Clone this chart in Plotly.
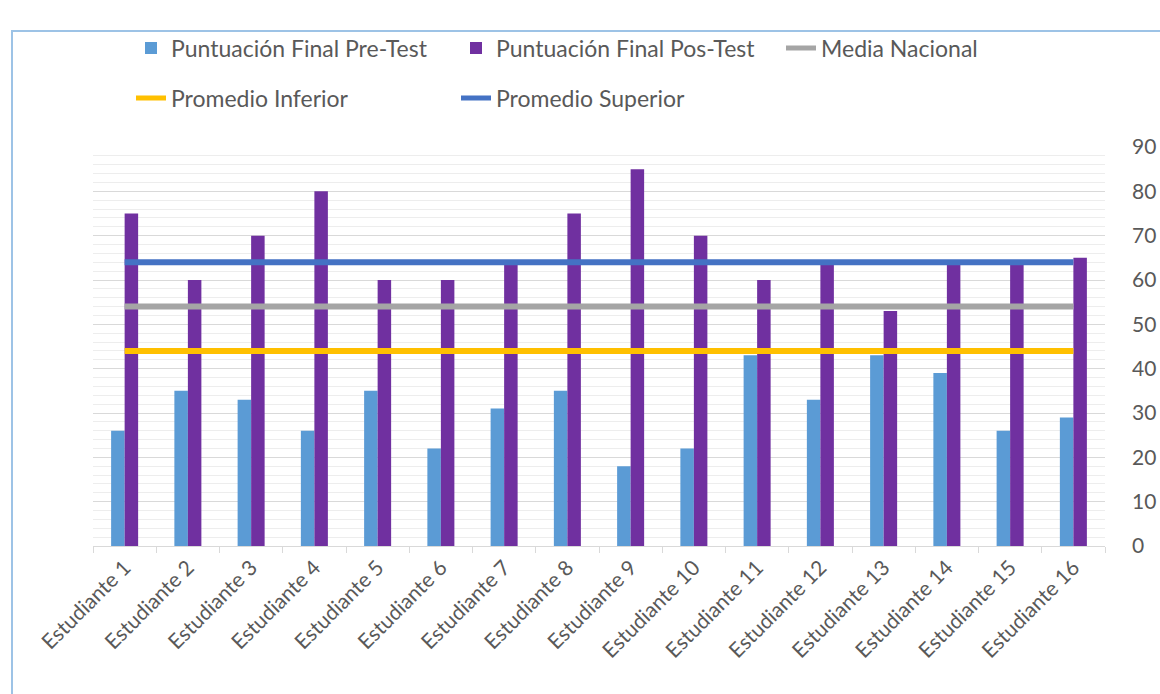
import plotly.graph_objects as go

categories = [f"Estudiante {i}" for i in range(1, 17)]
pre_test = [26, 35, 33, 26, 35, 22, 31, 35, 18, 22, 43, 33, 43, 39, 26, 29]
post_test = [75, 60, 70, 80, 60, 60, 64, 75, 85, 70, 60, 64, 53, 64, 64, 65]
media_nacional = [54] * 16
promedio_inferior = [44] * 16
promedio_superior = [64] * 16

FONT = "Lato"
TXT = "#595959"

fig = go.Figure()
fig.add_trace(go.Bar(x=categories, y=pre_test, name="Puntuación Final Pre-Test",
                     marker=dict(color="#5B9BD5", line=dict(width=0)), legend="legend"))
fig.add_trace(go.Bar(x=categories, y=post_test, name="Puntuación Final Pos-Test",
                     marker=dict(color="#7030A0", line=dict(width=0)), legend="legend"))
fig.add_trace(go.Scatter(x=categories, y=media_nacional, name="Media Nacional", mode="lines",
                         line=dict(color="#A5A5A5", width=6), legend="legend"))
fig.add_trace(go.Scatter(x=categories, y=promedio_inferior, name="Promedio Inferior", mode="lines",
                         line=dict(color="#FFC000", width=6), legend="legend2"))
fig.add_trace(go.Scatter(x=categories, y=promedio_superior, name="Promedio Superior", mode="lines",
                         line=dict(color="#4472C4", width=6), legend="legend2"))

L, R, T, B = 93, 55, 147, 148
PW, PH = 1160 - L - R, 694 - T - B

def px(xp):
    return (xp - L) / PW

def py(yp):
    return (694 - B - yp) / PH

legend_common = dict(orientation="h", xanchor="left", yanchor="middle",
                     font=dict(family=FONT, size=23, color=TXT),
                     entrywidth=280, entrywidthmode="pixels",
                     bgcolor="rgba(0,0,0,0)", itemsizing="constant")

fig.update_layout(
    width=1160, height=694,
    margin=dict(l=L, r=R, t=T, b=B, autoexpand=False),
    paper_bgcolor="white", plot_bgcolor="white",
    barmode="group", bargap=0.573, bargroupgap=0,
    font=dict(family=FONT, size=21, color=TXT),
    legend=dict(x=px(131), y=py(48), traceorder="normal", **legend_common),
    legend2=dict(x=px(131), y=py(98), traceorder="normal", **legend_common),
    xaxis=dict(
        showgrid=False, showline=True, linecolor="#D9D9D9", linewidth=1,
        ticks="outside", tickson="boundaries", ticklen=6, tickcolor="#D9D9D9",
        tickangle=-45, tickfont=dict(family=FONT, size=21, color=TXT),
        automargin=False,
    ),
    yaxis=dict(
        side="right", range=[0, 90], dtick=10, showline=False, zeroline=False,
        showgrid=True, gridcolor="#D9D9D9", gridwidth=1,
        minor=dict(dtick=2, showgrid=True, gridcolor="#EDEDED", gridwidth=1),
        ticks="", ticklabelstandoff=26,
        tickfont=dict(family=FONT, size=21, color=TXT),
        automargin=False,
    ),
    shapes=[dict(type="rect", xref="paper", yref="paper",
                 x0=px(12), x1=px(1170), y0=py(705), y1=py(31),
                 line=dict(color="#9DC3E6", width=2), fillcolor="rgba(0,0,0,0)", layer="below")],
)

fig.write_html("out.html")
